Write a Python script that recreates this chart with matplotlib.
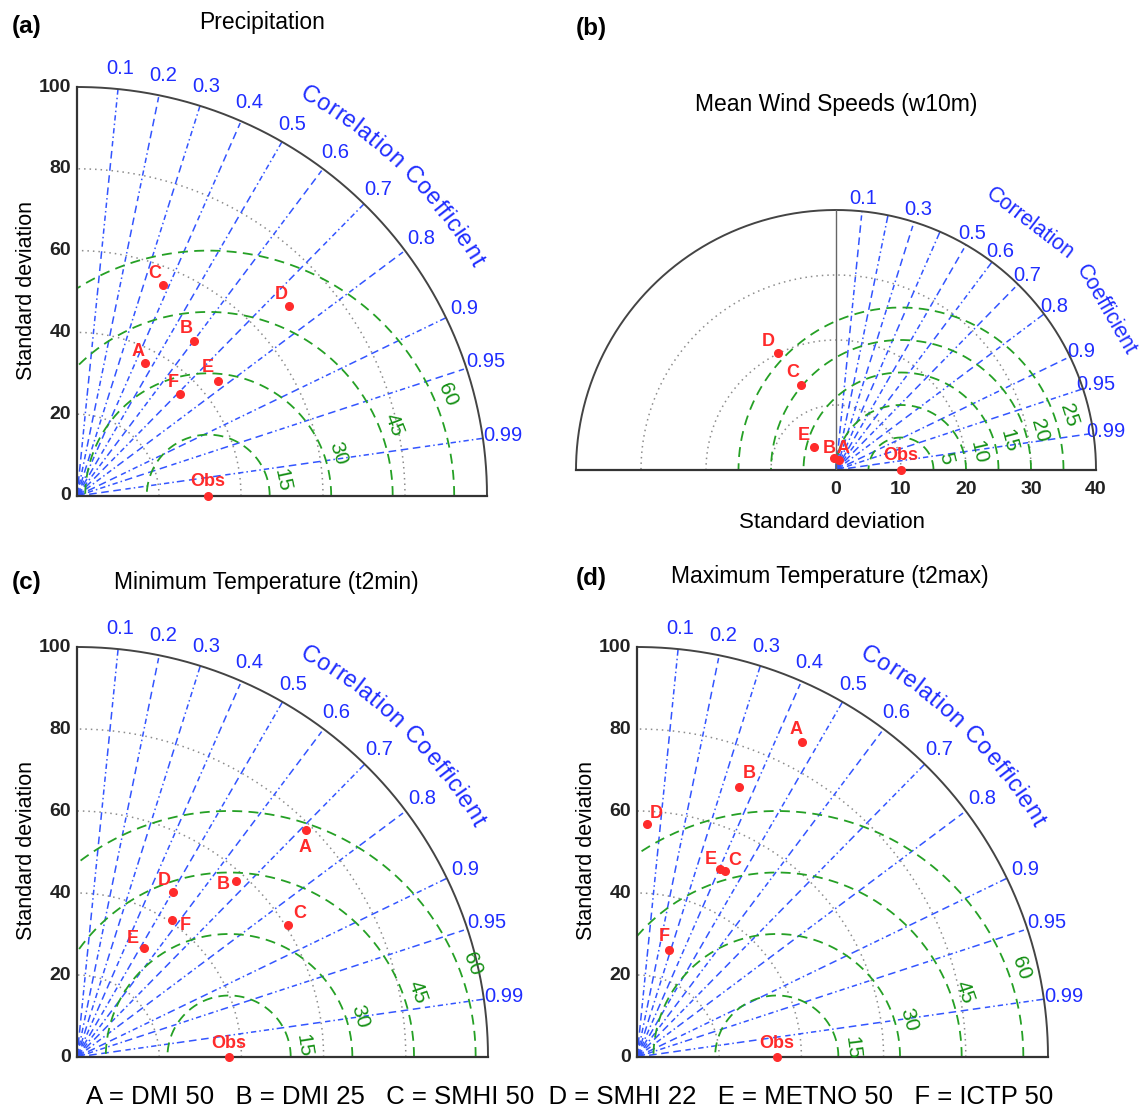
import numpy as np
import matplotlib
matplotlib.use("Agg")
import matplotlib.pyplot as plt
from matplotlib.patches import Wedge
from matplotlib.font_manager import FontProperties

plt.rcParams["font.family"] = ["Liberation Sans", "DejaVu Sans"]

models = ["A", "B", "C", "D", "E", "F"]

# precipitation
pr_std = [36.5, 47.4, 55.6, 69.4, 44.5, 35.3]
pr_cor = [0.455, 0.60, 0.378, 0.744, 0.775, 0.711]
pr_obs = 32

# mean wind speed (F not shown)
ws_std = [1.55, 1.82, 14.2, 20.1, 4.95, np.nan]
ws_cor = [0.26, -0.16, -0.38, -0.447, -0.687, np.nan]
ws_obs = 10

# minimum temperature
tn_std = [78.6, 57.8, 60.5, 46.5, 31.2, 40.7]
tn_cor = [0.71, 0.67, 0.847, 0.503, 0.522, 0.57]
tn_obs = 37

# maximum temperature
tx_std = [86.7, 70.4, 50.1, 57.0, 50.1, 27.3]
tx_cor = [0.464, 0.352, 0.427, 0.044, 0.403, 0.285]
tx_obs = 34

cc_ticks = [0.1, 0.2, 0.3, 0.4, 0.5, 0.6, 0.7, 0.8, 0.9, 0.95, 0.99]
rms_big = [15, 30, 45, 60]
rms_small = [5, 10, 15, 20, 25]

legend_text = "A = DMI 50   B = DMI 25   C = SMHI 50  D = SMHI 22   E = METNO 50   F = ICTP 50"

W, H = 1141, 1117
fig = plt.figure(figsize=(W / 100, H / 100), dpi=100)

BLUE = "#3355ff"
LBLUE = "#1f2dff"
GREEN = "#25a025"
GTXT = "#159015"
RED = "#ff2b2b"

ray_dash = (5.0, 3.0) * 4 + (3.5, 2.0, 1.0, 2.0) * 4
ray_period = sum(ray_dash)


def panel_axes(x0, x1, ytop, ybot):
    return fig.add_axes([x0 / W, 1 - ybot / H, (x1 - x0) / W, (ybot - ytop) / H])


def ftext(x, y, s, **kw):
    fig.text(x / W, 1 - y / H, s, **kw)


def arc_text(ax, text, r, a0, a1, fs):
    renderer = fig.canvas.get_renderer()
    fp = FontProperties(family=["Liberation Sans", "DejaVu Sans"], size=fs)
    widths = []
    for ch in text:
        if ch == " ":
            widths.append(0.278 * fs * 100 / 72)
        else:
            widths.append(renderer.get_text_width_height_descent(ch, fp, ismath=False)[0])
    widths = np.array(widths)
    centers = np.cumsum(widths) - widths / 2
    frac = (centers - centers[0]) / (centers[-1] - centers[0])
    for ch, f in zip(text, frac):
        a = np.deg2rad(a0 + (a1 - a0) * f)
        ax.text(r * np.cos(a), r * np.sin(a), ch, rotation=np.rad2deg(a) - 90,
                rotation_mode="anchor", ha="center", va="center", fontsize=fs,
                color=LBLUE, clip_on=False)


def taylor(ax, std, cor, obs, rmax, rms_levels, rms_angles, offsets, half=False,
           skip_labels=(), px_w=410):
    tmax = np.pi if half else np.pi / 2
    ppu = px_w / (2 * rmax if half else rmax)
    if half:
        ax.set_xlim(-rmax, rmax)
    else:
        ax.set_xlim(0, rmax)
    ax.set_ylim(0, rmax)
    ax.axis("off")

    t = np.linspace(0, tmax, 400)
    # std dev arcs
    arcs = [10, 20, 30] if half else [20, 40, 60, 80]
    for s in arcs:
        ax.plot(s * np.cos(t), s * np.sin(t), color="#8c8c8c", lw=1.1,
                ls=(0, (1, 2.6)), zorder=1)

    # correlation rays
    for i, c in enumerate(cc_ticks):
        a = np.arccos(c)
        off = 0 if i % 2 == 0 else ray_period / 2
        ax.plot([0, rmax * np.cos(a)], [0, rmax * np.sin(a)], color=BLUE, lw=1.1,
                ls=(off, ray_dash), zorder=2)
        if c not in skip_labels:
            ax.text(1.05 * rmax * np.cos(a), 1.05 * rmax * np.sin(a), f"{c:g}",
                    ha="center", va="center", fontsize=14.5, color=LBLUE, clip_on=False)
    ax.add_patch(Wedge((0, 0), 6 / ppu, 0, 90, color=BLUE, zorder=3))

    # centred RMS circles
    tt = np.linspace(0, 2 * np.pi, 1500)
    for r, ang in zip(rms_levels, rms_angles):
        x = obs + r * np.cos(tt)
        y = r * np.sin(tt)
        bad = (y < 0) | (x ** 2 + y ** 2 > rmax ** 2)
        if not half:
            bad |= x < 0
        x = np.where(bad, np.nan, x)
        y = np.where(bad, np.nan, y)
        ax.plot(x, y, color=GREEN, lw=1.3, ls=(0, (5.5, 3.5)), zorder=2)
        rl = r + 14 / ppu
        a = np.deg2rad(ang)
        ax.text(obs + rl * np.cos(a), rl * np.sin(a), str(r), rotation=ang - 90,
                rotation_mode="anchor", ha="center", va="center", fontsize=15,
                color=GTXT, clip_on=False, zorder=5)

    # frame
    ax.plot(rmax * np.cos(t), rmax * np.sin(t), color="#444444", lw=1.4, zorder=4,
            clip_on=False)
    if half:
        ax.plot([-rmax, rmax], [0, 0], color="#333333", lw=1.6, zorder=4, clip_on=False)
        ax.plot([0, 0], [0, rmax], color="#666666", lw=1.0, zorder=4)
    else:
        ax.plot([0, rmax], [0, 0], color="#333333", lw=1.6, zorder=4, clip_on=False)
        ax.plot([0, 0], [0, rmax], color="#333333", lw=1.6, zorder=4, clip_on=False)

    # models
    std = np.asarray(std, float)
    cor = np.asarray(cor, float)
    xs = std * cor
    ys = std * np.sqrt(1 - cor ** 2)
    for m, x, y in zip(models, xs, ys):
        if np.isnan(x):
            continue
        ax.plot(x, y, "o", color=RED, ms=5.5, zorder=6, clip_on=False)
        ax.annotate(m, (x, y), xytext=offsets[m], textcoords="offset pixels",
                    ha="center", va="center", fontsize=13, fontweight="bold",
                    color=RED, zorder=7, annotation_clip=False)
    ax.plot(obs, 0, "o", color=RED, ms=5.5, zorder=6, clip_on=False)
    ax.annotate("Obs", (obs, 0), xytext=(0, 14), textcoords="offset pixels",
                ha="center", va="center", fontsize=13, fontweight="bold",
                color=RED, zorder=7, annotation_clip=False)

    # axis labels
    if half:
        for v in range(0, rmax + 1, 10):
            ax.text(v, -20 / ppu, str(v), ha="center", va="center", fontsize=14,
                    fontweight="bold", color="#222222", clip_on=False)
    else:
        for v in range(0, rmax + 1, 20):
            ax.text(-6 / ppu, v, str(v), ha="right", va="center", fontsize=14,
                    fontweight="bold", color="#222222", clip_on=False)


# (a) precipitation
ax_a = panel_axes(77, 487, 87, 496)
taylor(ax_a, pr_std, pr_cor, pr_obs, 100, rms_big, [12, 18, 21, 23],
       {"A": (-7, 12), "B": (-7, 12), "C": (-8, 12), "D": (-7, 12), "E": (-11, 13),
        "F": (-7, 12)})
arc_text(ax_a, "Correlation Coefficient", 113, 60, 30.5, 17)

# (b) wind
ax_b = panel_axes(576, 1096, 210, 470)
taylor(ax_b, ws_std, ws_cor, ws_obs, 40, rms_small, [14, 13, 15, 16, 18],
       {"A": (4, 12), "B": (-5, 10), "C": (-8, 12), "D": (-9, 12), "E": (-10, 11)},
       half=True, skip_labels=(0.2, 0.4), px_w=520)
ftext(1030, 224, "Correlation", rotation=-37.5, ha="center", va="center",
      fontsize=15.5, color=LBLUE)
ftext(1106, 310, "Coefficient", rotation=-60, ha="center", va="center",
      fontsize=15.5, color=LBLUE)

# (c) minimum temperature
ax_c = panel_axes(77, 488, 647, 1057)
taylor(ax_c, tn_std, tn_cor, tn_obs, 100, rms_big, [9, 17, 19, 21],
       {"A": (-1, -17), "B": (-13, -3), "C": (12, 12), "D": (-9, 12), "E": (-11, 9),
        "F": (13, -6)})
arc_text(ax_c, "Correlation Coefficient", 113, 60, 30.5, 17)

# (d) maximum temperature
ax_d = panel_axes(637, 1048, 647, 1057)
taylor(ax_d, tx_std, tx_cor, tx_obs, 100, rms_big, [7, 16, 19, 20],
       {"A": (-6, 13), "B": (10, 13), "C": (10, 11), "D": (9, 10), "E": (-9, 10),
        "F": (-5, 13)})
arc_text(ax_d, "Correlation Coefficient", 113, 60, 30.5, 17)

# titles and labels
ftext(12, 27, "(a)", fontsize=17.5, fontweight="bold", va="center")
ftext(262, 22, "Precipitation", fontsize=16.5, ha="center", va="center")
ftext(576, 28, "(b)", fontsize=17.5, fontweight="bold", va="center")
ftext(836, 105, "Mean Wind Speeds (w10m)", fontsize=16.5, ha="center", va="center")
ftext(832, 523, "Standard deviation", fontsize=16, ha="center", va="center")
ftext(12, 583, "(c)", fontsize=17.5, fontweight="bold", va="center")
ftext(266, 583, "Minimum Temperature (t2min)", fontsize=16.5, ha="center", va="center")
ftext(576, 578, "(d)", fontsize=17.5, fontweight="bold", va="center")
ftext(830, 576, "Maximum Temperature (t2max)", fontsize=16.5, ha="center", va="center")
for yc in (290, 850):
    ftext(27, yc, "Standard deviation", fontsize=15.5, rotation=90, ha="center",
          va="center")
ftext(587, 850, "Standard deviation", fontsize=15.5, rotation=90, ha="center", va="center")

ftext(570, 1097, legend_text, fontsize=18.5, ha="center", va="center")

fig.savefig("out.png", dpi=100)
